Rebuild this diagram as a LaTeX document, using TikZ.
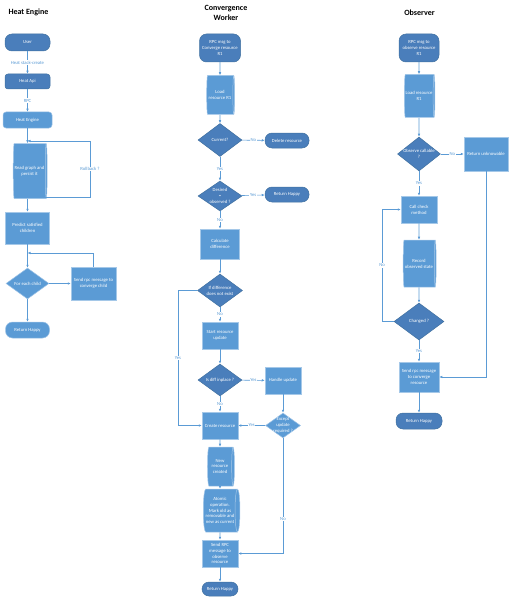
\documentclass[tikz,border=0pt]{standalone}
\usepackage{fontspec}
\setmainfont{Carlito}
\usetikzlibrary{arrows.meta,positioning,shapes.geometric}

\definecolor{boxdark}{RGB}{74,126,187}
\definecolor{boxlight}{RGB}{91,155,213}
\definecolor{linedark}{RGB}{65,113,160}

\tikzset{
  txt/.style={font=\fontsize{4.7}{5.8}\selectfont, text=white, align=center},
  base/.style={txt, inner sep=0.5pt, line width=0.5pt},
  sz/.style 2 args={minimum width=#1pt, minimum height=#2pt},
  pill/.style={base, rectangle, rounded corners=7pt, fill=boxdark, draw=linedark},
  pilllight/.style={base, rectangle, rounded corners=7pt, fill=boxlight, draw=boxlight!60!white},
  rbox/.style={base, rectangle, rounded corners=3pt},
  proc/.style={base, rectangle, fill=boxlight, draw=boxlight!55!white},
  store/.style={base, cylinder, aspect=0.18, fill=boxlight, draw=boxlight!55!white},
  dia/.style={diamond, inner sep=0pt, line width=0.5pt, fill=boxdark, draw=linedark, label={[txt]center:#1}},
  dialight/.style={dia=#1, fill=boxlight, draw=boxlight!60!white},
  flow/.style={draw=boxlight, line width=0.6pt, -{Latex[length=3pt,width=2.6pt]}},
  lbl/.style={font=\fontsize{4.7}{5.8}\selectfont, text=boxlight, fill=white, inner sep=0.6pt},
  title/.style={font=\fontsize{8}{10}\selectfont\bfseries, align=center}
}

\begin{document}
\begin{tikzpicture}[x=1pt, y=-1pt]
  \useasboundingbox (0,0) rectangle (511,599);

  % Heat Engine
  \node[title, anchor=west] (hetitle) at (5,12) {Heat Engine};
  \node[pill, sz={45}{17}] (user) at (27.5,42.5) {User};
  \node[rbox, fill=boxdark, draw=linedark, sz={45}{15}] (api) at (27.5,81.5) {Heat Api};
  \node[rbox, fill=boxlight, draw=boxlight!60!white, sz={49}{16}] (engine) at (27.5,120) {Heat Engine};
  \node[store, sz={55}{34}] (graph) at (29.5,171) {Read graph and\\persist it};
  \node[proc, sz={44}{32}] (predict) at (27.5,228) {Predict satisfied\\children};
  \node[dialight={For each child}, sz={43}{31}] (foreach) at (27.5,283.5) {};
  \node[proc, sz={45}{33}] (sendchild) at (93.5,283.5) {Send rpc message to\\converge child};
  \node[pilllight, sz={44}{16}] (hehappy) at (27.5,330) {Return Happy};
  \coordinate (rbfoot) at (27.5,197);
  \coordinate (rbtop) at (90,141);
  \coordinate (eachtop) at (27.5,253);

  \draw[flow] (user) -- node[lbl] {Heat stack-create} (api);
  \draw[flow] (api) -- node[lbl] {RPC} (engine);
  \draw[flow] (engine.south) -- (engine.south |- graph.north);
  \draw[flow] (engine.south |- graph.south) -- (predict.north);
  \draw[flow] (rbfoot) -| node[lbl, pos=0.75] {Rollback ?} (rbtop) -- (engine.south |- rbtop);
  \draw[flow] (predict) -- (foreach);
  \draw[flow] (foreach) -- (sendchild);
  \draw[flow] (sendchild.north) |- (eachtop);
  \draw[flow] (foreach) -- (hehappy);

  % Convergence Worker
  \node[title] (cwtitle) at (226,13) {Convergence\\Worker};
  \node[pill, sz={41}{28}] (cmsg) at (220,48) {RPC msg to\\Converge resource\\R1};
  \node[store, sz={39}{28}] (cload) at (220,95) {Load\\resource R1};
  \node[dia={Current?}, sz={44}{33}] (current) at (220,140) {};
  \node[pill, sz={44}{15}] (delete) at (287,140.5) {Delete resource};
  \node[dia={Desired\\{=}\\observed ?}, sz={44}{30}] (desired) at (220,196) {};
  \node[pill, sz={44}{15}] (chappy) at (287,194.5) {Return Happy};
  \node[proc, sz={39}{30}] (calc) at (220,244) {Calculate\\difference};
  \node[dia={If difference\\does not exist}, sz={45}{33}] (nodiff) at (220,290.5) {};
  \node[proc, sz={36}{27}] (startupd) at (220,335.5) {Start resource\\update};
  \node[dia={Is diff inplace ?}, sz={44}{32}] (inplace) at (220,380) {};
  \node[proc, sz={36}{27}] (handle) at (283,380.5) {Handle update};
  \node[proc, sz={36}{27}] (create) at (220,425.5) {Create resource};
  \node[dialight={Except\\update\\required ?}, sz={35}{25}] (except) at (283,425.5) {};
  \node[store, sz={39}{27}] (newres) at (220,466.5) {New\\resource\\created};
  \node[store, sz={43}{31}] (atomic) at (220,510.5) {Atomic\\operation.\\Mark old as\\removable and\\new as current};
  \node[proc, sz={36}{27}] (sendobs) at (220,553.5) {Send RPC\\message to\\observe\\resource};
  \node[pill, sz={36}{14}] (cwhappy) at (220,589) {Return Happy};
  \coordinate (yesturn) at (178,290.5);

  \draw[flow] (cmsg) -- (cload);
  \draw[flow] (cload) -- (current);
  \draw[flow] (current) -- node[lbl] {No} (delete);
  \draw[flow] (current) -- node[lbl] {Yes} (desired);
  \draw[flow] (desired) -- node[lbl] {Yes} (chappy);
  \draw[flow] (desired) -- node[lbl] {No} (calc);
  \draw[flow] (calc) -- (nodiff);
  \draw[flow] (nodiff) -- node[lbl] {No} (startupd);
  \draw[flow] (nodiff.west) -- (yesturn) |- node[lbl, pos=0.25] {Yes} (create.west);
  \draw[flow] (startupd) -- (inplace);
  \draw[flow] (inplace) -- node[lbl] {Yes} (handle);
  \draw[flow] (inplace) -- node[lbl] {No} (create);
  \draw[flow] (handle) -- (except);
  \draw[flow] (except) -- node[lbl] {Yes} (create);
  \draw[flow] (except.south) |- node[lbl, pos=0.35] {No} (sendobs.east);
  \draw[flow] (create) -- (newres);
  \draw[flow] (newres) -- (atomic);
  \draw[flow] (atomic) -- (sendobs);
  \draw[flow] (sendobs) -- (cwhappy);

  % Observer
  \node[title] (obtitle) at (419.5,13) {Observer};
  \node[pill, sz={40}{28}] (omsg) at (419,48) {RPC msg to\\observe resource\\R1};
  \node[store, sz={43}{30}] (oload) at (419,96) {Load resource\\R1};
  \node[dia={Observe callable\\?}, sz={43}{34}] (callable) at (419,154) {};
  \node[proc, sz={44}{34}] (unknow) at (486,154) {Return unknowable};
  \node[proc, sz={36}{27}] (check) at (419,209.5) {Call check\\method};
  \node[store, sz={47}{33}] (record) at (419,263.5) {Record\\observed state};
  \node[dia={Changed ?}, sz={50}{37}] (changed) at (419,321.5) {};
  \node[proc, sz={40}{30}] (sendconv) at (419,377) {Send rpc message\\to converge\\resource};
  \node[pill, sz={46}{16}] (obhappy) at (419,421) {Return Happy};
  \coordinate (noturn) at (382,321.5);

  \draw[flow] (omsg) -- (oload);
  \draw[flow] (oload) -- (callable);
  \draw[flow] (callable) -- node[lbl] {No} (unknow);
  \draw[flow] (callable) -- node[lbl] {Yes} (check);
  \draw[flow] (check) -- (record);
  \draw[flow] (record) -- (changed);
  \draw[flow] (changed.west) -- (noturn) |- node[lbl, pos=0.25] {No} (check.west);
  \draw[flow] (changed) -- node[lbl] {Yes} (sendconv);
  \draw[flow] (unknow.south) |- (sendconv.east);
  \draw[flow] (sendconv) -- (obhappy);
\end{tikzpicture}
\end{document}
